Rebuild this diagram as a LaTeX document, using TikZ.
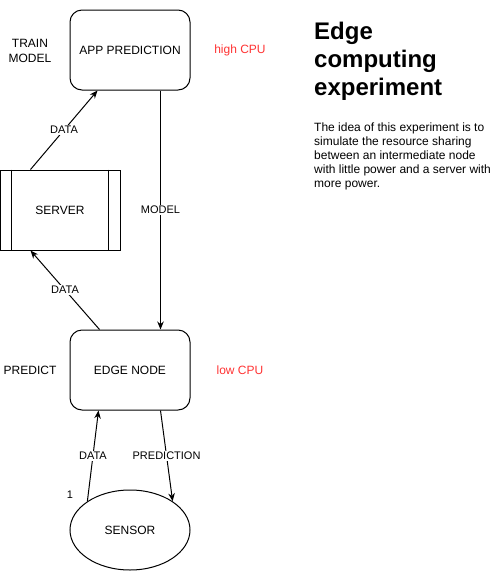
\documentclass[tikz,border=0pt]{standalone}
\usepackage{fontspec}
\setmainfont{Liberation Sans}
\usetikzlibrary{arrows.meta,shapes.geometric}
\definecolor{cpured}{RGB}{255,51,51}
\tikzset{
  block/.style={draw,line width=1pt,rounded corners=12pt,minimum width=120pt,minimum height=80pt,inner sep=0pt,font=\fontsize{12}{14}\selectfont},
  flow/.style={line width=1pt,-{Stealth[length=8pt,width=6.5pt]}},
  tag/.style={fill=white,inner sep=1pt,font=\fontsize{11}{13}\selectfont},
  note/.style={inner sep=0pt,align=center,font=\fontsize{12}{15}\selectfont}
}
\begin{document}
\begin{tikzpicture}[x=1pt,y=-1pt]
\useasboundingbox (0,0) rectangle (500,571);
\node[block] (app) at (130,50) {APP PREDICTION};
\node[block,rounded corners=0pt] (server) at (60,210) {SERVER};
\draw[line width=1pt] ([xshift=12pt]server.north west) -- ([xshift=12pt]server.south west);
\draw[line width=1pt] ([xshift=-12pt]server.north east) -- ([xshift=-12pt]server.south east);
\node[block] (edge) at (130,370) {EDGE NODE};
\node[draw,ellipse,line width=1pt,minimum width=120pt,minimum height=80pt,inner sep=0pt,font=\fontsize{12}{14}\selectfont] (sensor) at (130,530) {SENSOR};

% side notes
\node[note] (train) at (30,50.5) {TRAIN\\MODEL};
\node[note] (predict) at (30,370) {PREDICT};
\node[note,text=cpured] (high) at (240,50) {high CPU};
\node[note,text=cpured] (low) at (240,370) {low CPU};
\node[inner sep=0pt,font=\fontsize{11}{13}\selectfont] (one) at (70,495) {1};

% connectors
\draw[flow] ([xshift=31pt]server.north west) -- ([xshift=28pt]app.south west) node[tag,midway] {DATA};
\draw[flow] ([xshift=-30pt]app.south east) -- ([xshift=-30pt]edge.north east) node[tag,midway] {MODEL};
\draw[flow] ([xshift=30pt]edge.north west) -- ([xshift=31pt]server.south west) node[tag,midway] {DATA};
\draw[flow] (sensor.146) -- ([xshift=29pt]edge.south west) node[tag,midway] {DATA};
\draw[flow] ([xshift=-30pt]edge.south east) -- (sensor.34) node[tag,midway] {PREDICTION};

% description
\node[anchor=north west,inner sep=0pt,align=left,font=\fontsize{24}{28}\selectfont\bfseries] (title) at (314,22) {Edge\\computing\\experiment};
\node[anchor=north west,inner sep=0pt,align=left,font=\fontsize{12}{14}\selectfont] (text) at (314,122.5) {The idea of this experiment is to\\simulate the resource sharing\\between an intermediate node\\with little power and a server with\\more power.};
\end{tikzpicture}
\end{document}
